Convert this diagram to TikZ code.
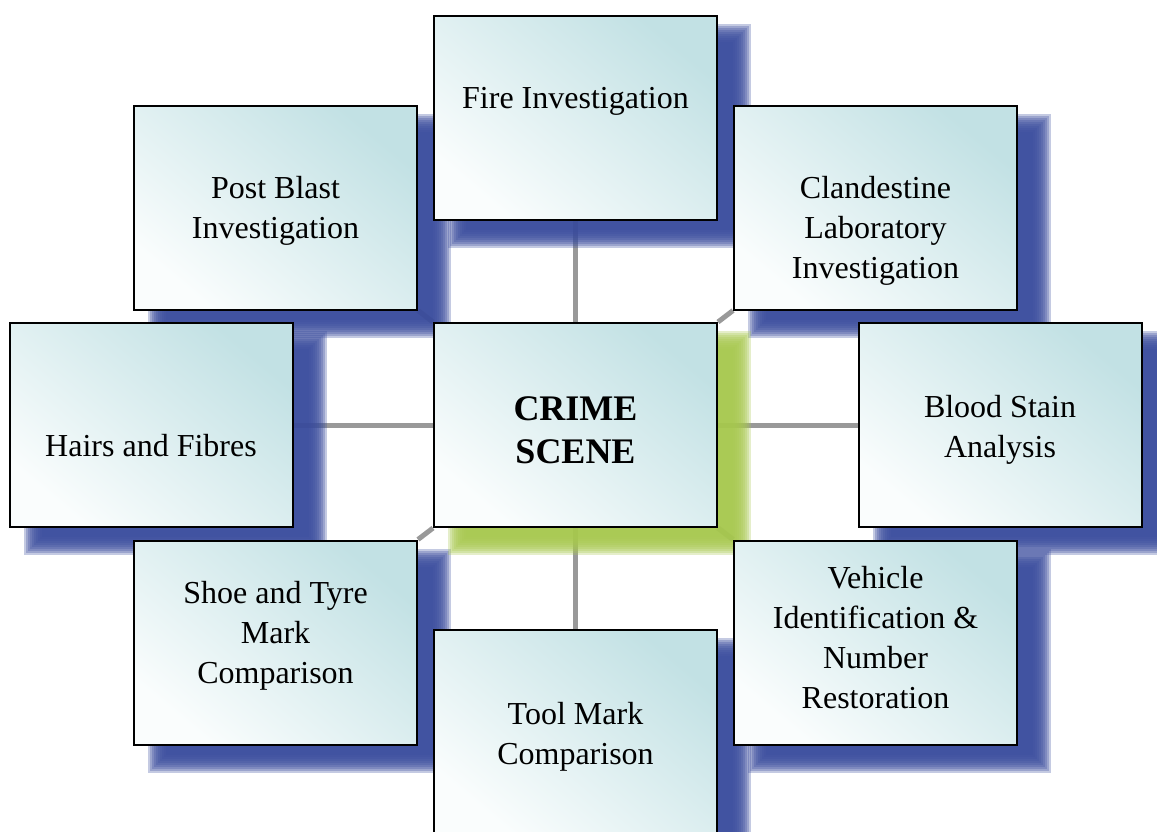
\documentclass[tikz,border=0pt]{standalone}
\usepackage{fontspec}
\setmainfont{Liberation Serif}
\definecolor{shadeblue}{RGB}{60,78,158}
\definecolor{shadegreen}{RGB}{168,200,80}
\definecolor{boxhi}{RGB}{194,225,228}
\definecolor{boxmid}{RGB}{222,238,240}
\definecolor{boxlo}{RGB}{250,253,253}
\definecolor{linkgray}{RGB}{153,153,153}
\pgfdeclarelayer{links}
\pgfdeclarelayer{shades}
\pgfsetlayers{links,shades,main}

% soft drop shadow behind a box: node name, colour
\newcommand{\dropshade}[2]{%
  \foreach \k in {-9,-7,...,9}
    \fill[#2, opacity=0.3] ([shift={(24-\k,18-\k)}]#1.north west) rectangle ([shift={(24+\k,18+\k)}]#1.south east);
}

\begin{document}
\begin{tikzpicture}[x=0.75pt,y=-0.75pt]
  \tikzset{unit/.style = {draw=black, line width=1.5pt, minimum width=212.25pt, minimum height=153pt, inner sep=0pt,
                          top color=boxhi, middle color=boxmid, bottom color=boxlo, shading angle=-40}}
  \tikzset{txt/.style = {align=center, inner sep=0pt, font=\fontsize{24}{30}\selectfont}}
  \tikzset{link/.style = {draw=linkgray, line width=3.75pt}}
  \useasboundingbox (0,0) rectangle (1157,832);

\node[unit] (fire)  at (575.5,117.5) {};
\node[unit] (post)  at (275.5,207.5) {};
\node[unit] (clan)  at (875.5,207.5) {};
\node[unit] (hairs) at (151,425) {};
\node[unit] (crime) at (575.5,425) {};
\node[unit] (blood) at (1000,425) {};
\node[unit] (shoe)  at (275.5,642.5) {};
\node[unit] (veh)   at (875.5,642.5) {};
\node[unit] (tool)  at (575.5,731.5) {};

\node[txt] (fire-t)  at (575.5,101.5) {Fire Investigation};
\node[txt] (post-t)  at (275.5,211) {Post Blast\\Investigation};
\node[txt] (clan-t)  at (875.5,231) {Clandestine\\Laboratory\\Investigation};
\node[txt] (hairs-t) at (151,445.5) {Hairs and Fibres};
\node[txt, font=\bfseries\fontsize{27}{32}\selectfont] (crime-t) at (575.5,430) {CRIME\\SCENE};
\node[txt] (blood-t) at (1000,430) {Blood Stain\\Analysis};
\node[txt] (shoe-t)  at (275.5,636) {Shoe and Tyre\\Mark\\Comparison};
\node[txt] (veh-t)   at (875.5,638) {Vehicle\\Identification \&\\Number\\Restoration};
\node[txt] (tool-t)  at (575.5,737) {Tool Mark\\Comparison};

\begin{pgfonlayer}{shades}
  \foreach \n in {fire,post,clan,hairs,blood,shoe,veh,tool}
    {\dropshade{\n}{shadeblue}}
  \dropshade{crime}{shadegreen}
\end{pgfonlayer}

\begin{pgfonlayer}{links}
  \path[link] (crime) edge (fire);
  \path[link] (crime) edge (tool);
  \path[link] (crime) edge (hairs);
  \path[link] (crime) edge (blood);
  \path[link] (crime.north west) edge (post.south east);
  \path[link] (crime.north east) edge (clan.south west);
  \path[link] (crime.south west) edge (shoe.north east);
  \path[link] (crime.south east) edge (veh.north west);
\end{pgfonlayer}

\end{tikzpicture}
\end{document}
